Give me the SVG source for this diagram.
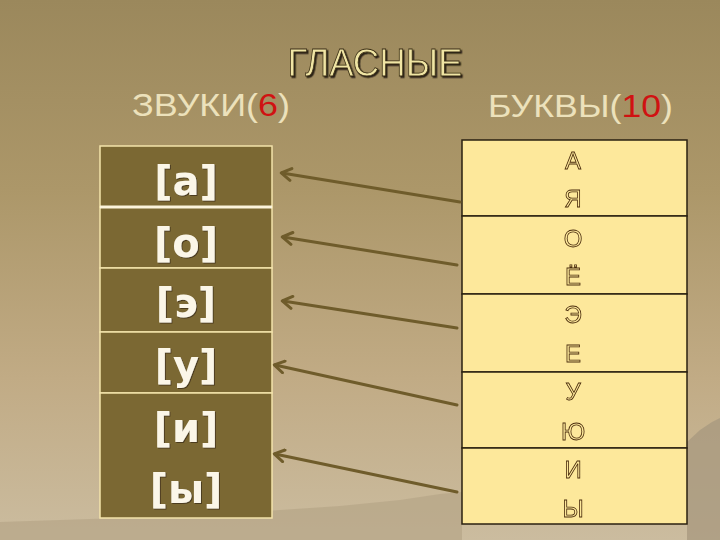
<svg xmlns="http://www.w3.org/2000/svg" width="720" height="540" viewBox="0 0 720 540">
  <defs>
    <linearGradient id="bg" x1="0" y1="0" x2="0" y2="1">
      <stop offset="0" stop-color="#9b885c"/>
      <stop offset="0.35" stop-color="#ac9769"/>
      <stop offset="0.7" stop-color="#c1ab85"/>
      <stop offset="1" stop-color="#cbbc9f"/>
    </linearGradient>
    <filter id="shadow" x="-10%" y="-20%" width="120%" height="140%">
      <feDropShadow dx="1.5" dy="1.5" stdDeviation="0.4" flood-color="#2b2312" flood-opacity="1"/>
    </filter>
    <filter id="soft" x="-10%" y="-20%" width="120%" height="140%">
      <feDropShadow dx="1" dy="1" stdDeviation="0.6" flood-color="#3c3016" flood-opacity="0.8"/>
    </filter>
    <filter id="flat" x="-10%" y="-10%" width="120%" height="120%">
      <feOffset dx="0" dy="0"/>
    </filter>
    <marker id="head" viewBox="0 0 10 10" refX="8" refY="5" markerWidth="5" markerHeight="5" orient="auto" markerUnits="strokeWidth">
      <path d="M2,1 L8.5,5 L2,9" fill="none" stroke="#6f5c2b" stroke-width="2" stroke-linecap="round" stroke-linejoin="round"/>
    </marker>
    <style>
      .sound rect { fill: #7b6833; stroke: #f3e3ab; stroke-width: 1.5; }
      .sound text { font-family: "DejaVu Sans", "Liberation Sans", sans-serif; font-weight: bold; font-size: 40px; fill: #fbf6e8; text-anchor: middle; filter: url(#soft); }
      .letter rect { fill: #fde89b; stroke: #2a2110; stroke-width: 1.5; }
      .letter text { font-family: "Liberation Sans", Arial, sans-serif; font-size: 24px; fill: none; stroke: #4a2c0c; stroke-width: 0.8; text-anchor: middle; filter: url(#flat); }
      .head { font-family: "Liberation Sans", Arial, sans-serif; font-size: 32px; fill: #ece1bb; }
      .red { fill: #d01212; }
      .arrow { stroke: #6f5c2b; stroke-width: 3; fill: none; stroke-linecap: round; marker-end: url(#head); }
    </style>
  </defs>

  <rect x="0" y="0" width="720" height="540" fill="url(#bg)"/>
  <path d="M0,540 L0,522 L120,518 L250,512 L340,506 L400,500 L440,494 L462,492 L462,540 Z" fill="#b3a184" opacity="0.6"/>
  <path d="M687,540 L687,442 L700,430 L712,422 L720,418 L720,540 Z" fill="#a99a80" opacity="0.8"/>

  <g id="title">
    <text x="375" y="76" font-family="Liberation Sans, Arial, sans-serif" font-size="39" textLength="175" lengthAdjust="spacingAndGlyphs" text-anchor="middle" fill="#f0e5a4" stroke="#3a2e14" stroke-width="0.8" filter="url(#shadow)">ГЛАСНЫЕ</text>
  </g>
  <g id="sounds-header">
    <text class="head" x="132" y="116" textLength="158" lengthAdjust="spacingAndGlyphs">ЗВУКИ(<tspan class="red">6</tspan>)</text>
  </g>
  <g id="letters-header">
    <text class="head" x="488" y="117" textLength="185" lengthAdjust="spacingAndGlyphs">БУКВЫ(<tspan class="red">10</tspan>)</text>
  </g>

  <g id="sound-a" class="sound">
    <rect x="100" y="146" width="172" height="61"/>
    <text x="186" y="195">[а]</text>
  </g>
  <g id="sound-o" class="sound">
    <rect x="100" y="207" width="172" height="61"/>
    <text x="186" y="257">[о]</text>
  </g>
  <g id="sound-e" class="sound">
    <rect x="100" y="268" width="172" height="64"/>
    <text x="186" y="317">[э]</text>
  </g>
  <g id="sound-u" class="sound">
    <rect x="100" y="332" width="172" height="61"/>
    <text x="186" y="379">[у]</text>
  </g>
  <g id="sound-i-y" class="sound">
    <rect x="100" y="393" width="172" height="125"/>
    <text x="186" y="442">[и]</text>
    <text x="186" y="503">[ы]</text>
  </g>
  <line x1="100" y1="207" x2="272" y2="207" stroke="#fbf3dc" stroke-width="3"/>

  <g id="letters-a-ya" class="letter">
    <rect x="462" y="140" width="225" height="76"/>
    <text x="573" y="169">А</text>
    <text x="573" y="207">Я</text>
  </g>
  <g id="letters-o-yo" class="letter">
    <rect x="462" y="216" width="225" height="78"/>
    <text x="573" y="247">О</text>
    <text x="573" y="285">Ё</text>
  </g>
  <g id="letters-e-ye" class="letter">
    <rect x="462" y="294" width="225" height="78"/>
    <text x="573" y="323">Э</text>
    <text x="573" y="362">Е</text>
  </g>
  <g id="letters-u-yu" class="letter">
    <rect x="462" y="372" width="225" height="76"/>
    <text x="573" y="400">У</text>
    <text x="573" y="440">Ю</text>
  </g>
  <g id="letters-i-y" class="letter">
    <rect x="462" y="448" width="225" height="76"/>
    <text x="573" y="478">И</text>
    <text x="573" y="517">Ы</text>
  </g>

  <g id="connectors">
    <line class="arrow" x1="460" y1="202" x2="282" y2="173"/>
    <line class="arrow" x1="457" y1="265" x2="283" y2="237"/>
    <line class="arrow" x1="457" y1="328" x2="283" y2="301"/>
    <line class="arrow" x1="457" y1="405" x2="275" y2="365"/>
    <line class="arrow" x1="457" y1="492" x2="275" y2="454"/>
  </g>
</svg>
